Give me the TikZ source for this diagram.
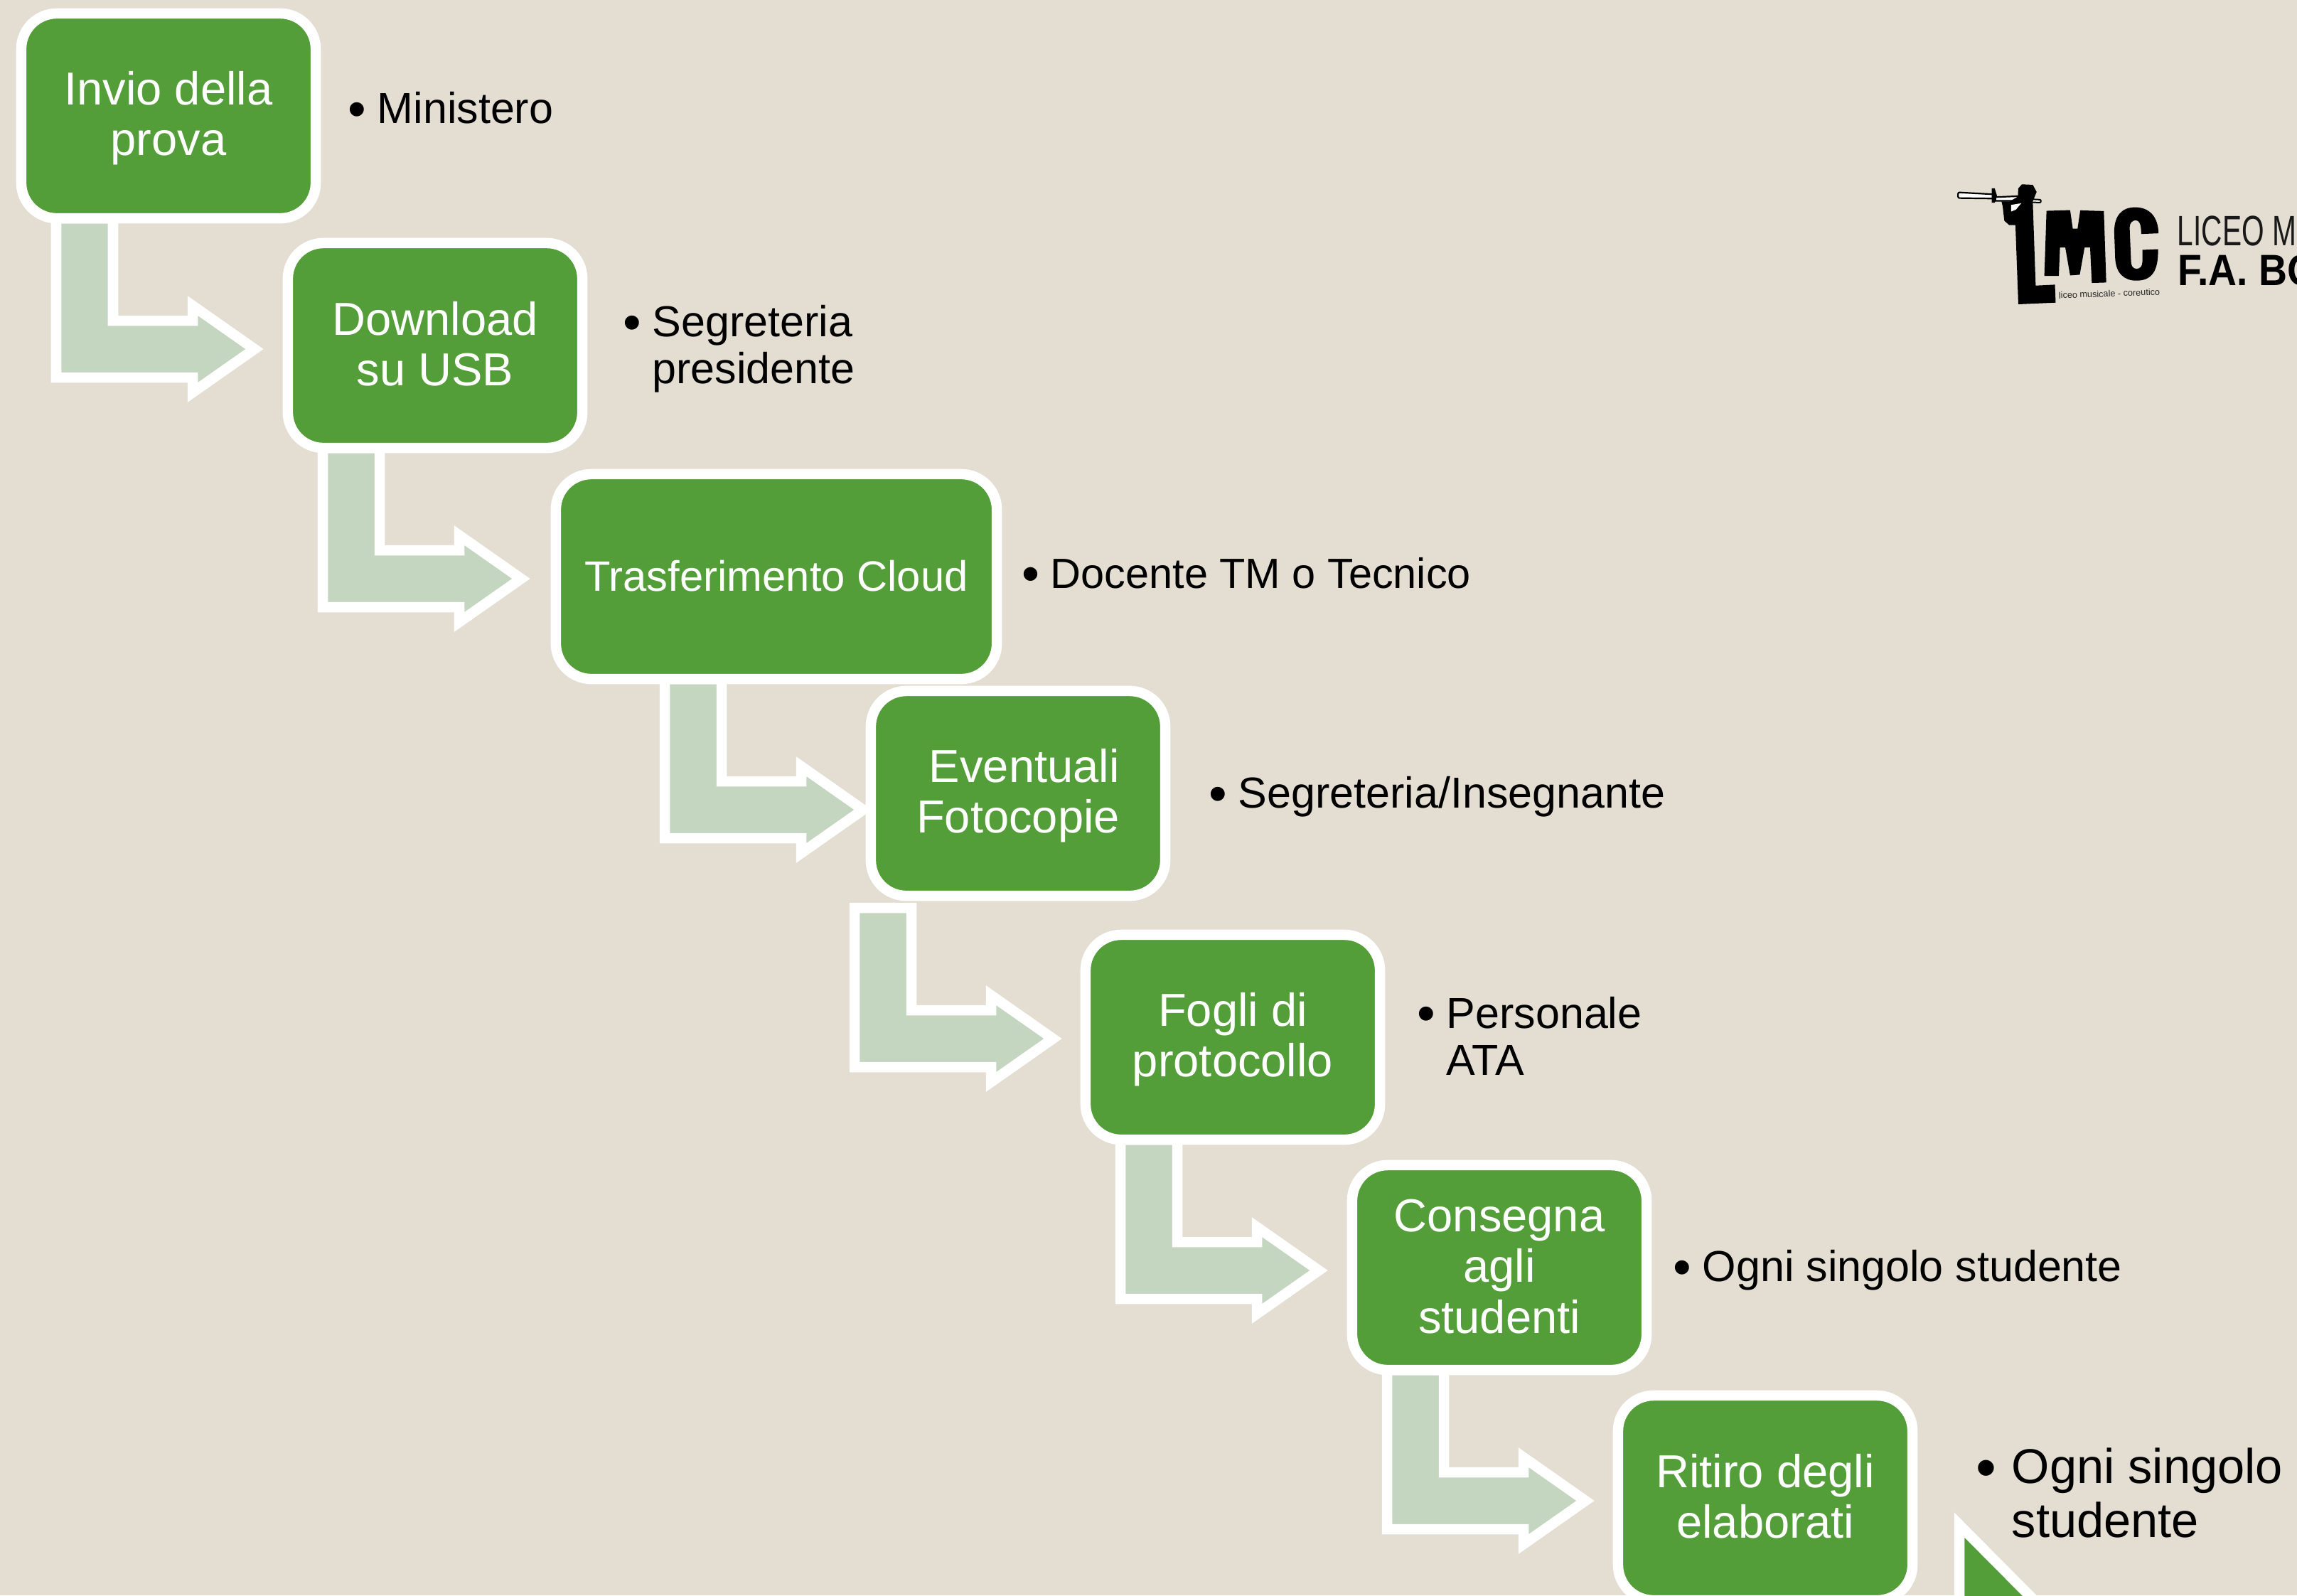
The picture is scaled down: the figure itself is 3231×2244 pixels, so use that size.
\documentclass[tikz,border=0pt]{standalone}
\usepackage{fontspec}
\setmainfont{Liberation Sans}
\newfontfamily\logothin[FakeStretch=0.68]{Liberation Sans}
\newfontfamily\logobold[FakeStretch=0.9]{Liberation Sans Bold}
\usetikzlibrary{backgrounds}
\definecolor{sfondo}{HTML}{E4DED2}
\definecolor{verde}{HTML}{549E39}
\definecolor{verdino}{HTML}{C4D6C0}
\newcommand{\punto}[1]{\llap{\raisebox{-.08em}{\scalebox{1.2}{\textbullet}}\hspace{#1}}}
\newcommand{\alto}{\rule{0pt}{15pt}}
\newcommand{\basso}{\rule[-3.1pt]{0pt}{3.1pt}}
\tikzset{
   passo/.style={draw=white, fill=verde, text=white, line width=.145cm, rounded corners=.5cm,
      minimum width=4.14cm, minimum height=2.88cm, inner sep=0pt, align=center,
      font=\fontsize{18.5}{20.2}\selectfont},
   chi/.style={anchor=west, inner sep=0pt, align=left, font=\fontsize{17.35}{18.8}\selectfont},
   freccia/.style={draw=white, fill=verdino, line width=.145cm, miter limit=10},
   logonero/.style={fill=black, draw=none}
}
\begin{document}
\begin{tikzpicture}[x=.01cm, y=-.01cm]
   \useasboundingbox (0,0) rectangle (3231,2244);

   \node[passo] (invio) at (237,163) {\alto Invio della\\prova\basso};
   \node[passo] (usb) at (612,486) {\alto Download\\su USB\basso};
   \node[passo, minimum width=6.2cm, font=\fontsize{17}{20.2}\selectfont] (cloud) at (1092,811) {\alto Trasferimento Cloud\basso};
   \node[passo] (copie) at (1432,1116) {\alto\hspace*{5pt}Eventuali\\Fotocopie\basso};
   \node[passo] (fogli) at (1734,1459) {\alto Fogli di\\protocollo\basso};
   \node[passo] (consegna) at (2109,1783) {\alto Consegna\\agli\\studenti\basso};
   \node[passo] (ritiro) at (2483,2107) {\alto Ritiro degli\\elaborati\basso};

   \node[chi] (ministero) at (530,154) {\punto{4.4pt}Ministero};
   \node[chi] (segreteria) at (917,491) {\punto{4.4pt}Segreteria\\presidente};
   \node[chi, font=\fontsize{16.9}{18.8}\selectfont] (docente) at (1477,808) {\punto{4.4pt}Docente TM o Tecnico};
   \node[chi] (insegnante) at (1741,1121) {\punto{4.4pt}Segreteria/Insegnante};
   \node[chi] (ata) at (2034,1457) {\punto{4.4pt}Personale\\ATA};
   \node[chi] (ognuno) at (2394,1787) {\punto{4.4pt}Ogni singolo studente};
   \node[chi, font=\fontsize{19.5}{21.6}\selectfont] (ritirano) at (2829,2100) {\punto{6.2pt}Ogni singolo\\studente};

   \begin{pgfonlayer}{background}
      \fill[sfondo] (0,0) rectangle (3231,2244);
      \foreach \da/\dx/\dy in {invio/0/0, usb/0/0, cloud/1/0, copie/-72/17, fogli/0/0, consegna/0/0}
      \draw[freccia] ([shift={(\dx-158,\dy+144)}]\da.center) --++ (80,0) --++ (0,144) --++ (112,0)
         --++ (0,-21) --++ (87,61) --++ (-87,61) --++ (0,-21) --++ (-192,0) -- cycle;
   \end{pgfonlayer}

   \draw[draw=white, fill=verde, line width=.145cm] (2756,2145) -- (2900,2290) -- (2756,2400) -- cycle;

   \begin{scope}[shift={(2700,220)}, x=.00339cm, y=-.00333cm]
      \draw[line width=.022cm, line cap=round, rounded corners=.02cm, fill=white] (160,152) -- (305,160) -- (305,178) -- (160,176) -- cycle;
      \draw[line width=.022cm, fill=white] (315,172) -- (410,168) -- (410,188) -- (315,188) -- cycle;
      \draw[line width=.02cm, rounded corners=.01cm, fill=white] (465,181) -- (503,183) -- (503,195) -- (465,194) -- cycle;
      \fill[logonero] (300,135) -- (312,135) -- (322,168) -- (312,196) -- (300,196) -- cycle;
      \fill[logonero] (410,135) -- (425,118) -- (470,120) -- (486,150) -- (470,190) -- (472,250) -- (482,546)
         -- (562,542) -- (565,618) -- (410,625) -- (398,290) -- (372,290) -- (352,272) -- (345,210) -- (340,190) -- (375,190) -- (408,170) -- cycle;
      \fill[white] (380,205) -- (422,198) -- (400,225) -- (380,233) -- cycle;
      \fill[logonero] (527,230) -- (625,227) -- (636,305) -- (656,305) -- (667,228) -- (765,231) -- (775,533) -- (715,535)
         -- (708,385) -- (685,385) -- (665,500) -- (625,503) -- (605,385) -- (583,385) -- (578,505) -- (518,505) -- cycle;
      \fill[logonero] (992,325) .. controls (990,250) and (950,215) .. (895,215) .. controls (840,215) and (808,250) .. (808,320)
         -- (812,430) .. controls (815,495) and (850,525) .. (900,525) .. controls (960,525) and (992,490) .. (990,392)
         -- (925,395) -- (925,445) .. controls (925,465) and (915,475) .. (900,475) .. controls (885,475) and (878,460) .. (878,445)
         -- (872,300) .. controls (872,280) and (885,270) .. (897,270) .. controls (912,270) and (920,285) .. (920,328) -- cycle;
   \end{scope}
   \node[rotate=2, inner sep=0pt, font=\fontsize{3.6}{4}\selectfont, text=black!85] (motto) at (2967,413) {liceo musicale - coreutico};
   \node[anchor=base west, inner sep=0pt, font=\logothin\fontsize{17}{17}\selectfont, text=black!90] (liceo) at (3062,345) {LICEO M};
   \node[anchor=base west, inner sep=0pt, font=\logobold\fontsize{17.5}{17.5}\selectfont] (scuola) at (3063,401) {F.A. BO};
\end{tikzpicture}
\end{document}
